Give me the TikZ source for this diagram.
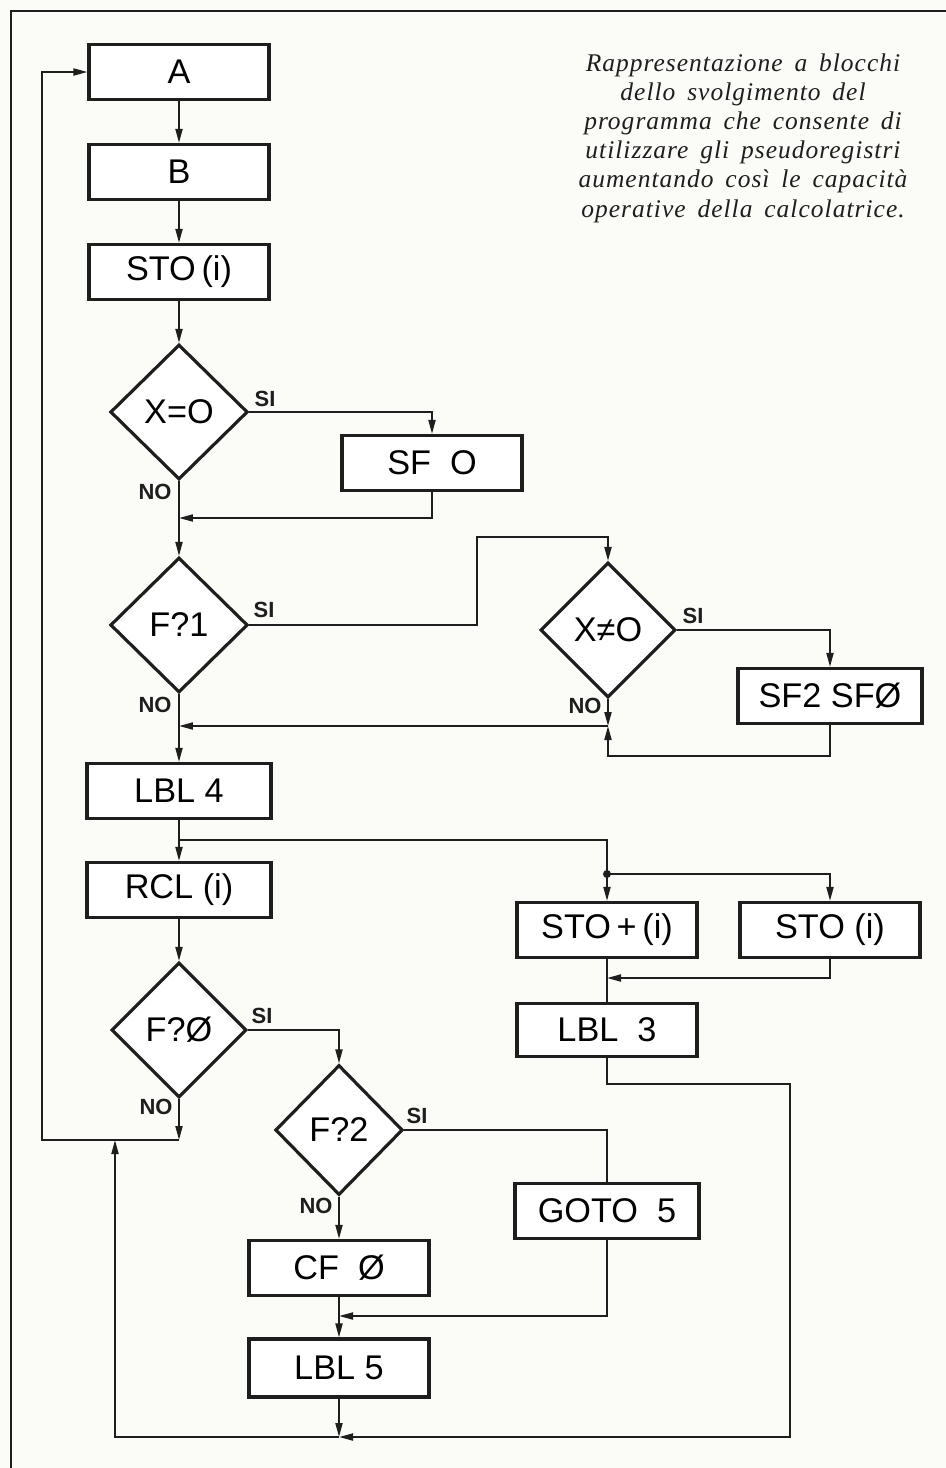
\documentclass[tikz,border=0pt]{standalone}
\usepackage{fontspec}
\setmainfont{Liberation Serif}
\setsansfont{Liberation Sans}
\newfontfamily\notefont[LetterSpace=4,WordSpace=1.6]{Liberation Serif}
\usepackage{tikz}
\usetikzlibrary{arrows.meta,shapes.geometric}
\definecolor{FlowInk}{HTML}{1E1E1E}
\definecolor{FlowPaper}{HTML}{FBFBF8}
\tikzset{
  >=Triangle,
  opbox/.style={draw=FlowInk,line width=1.8pt,fill=white,minimum width=3.6cm,
    minimum height=1.1cm,inner sep=2pt,font=\sffamily\fontsize{19.5}{22}\selectfont},
  widebox/.style={opbox,minimum width=3.68cm},
  testbox/.style={diamond,draw=FlowInk,line width=1.8pt,fill=white,aspect=1,
    inner sep=0pt,minimum width=2.75cm,minimum height=2.7cm,
    font=\sffamily\fontsize{19.5}{22}\selectfont},
  flow/.style={-{Triangle[length=2.8mm,width=1.4mm]},line width=1.1pt,draw=FlowInk},
  wire/.style={line width=1.1pt,draw=FlowInk},
  answer/.style={font=\sffamily\bfseries\fontsize{12.5}{13}\selectfont,text=FlowInk,inner sep=1pt},
  caption/.style={font=\notefont\itshape\fontsize{14.5}{16.6}\selectfont,align=center,text=FlowInk},
  frameline/.style={line width=1.2pt,draw=FlowInk}
}

\begin{document}
\begin{tikzpicture}[x=0.02cm,y=-0.02cm]
  \useasboundingbox[fill=FlowPaper] (0,0) rectangle (946,1468);
  \draw[frameline] (11,1468) -- (11,11) -- (946,11);

  \node[caption] (note) at (743,138) {Rappresentazione a blocchi\\dello svolgimento del\\programma che consente di\\utilizzare gli pseudoregistri\\aumentando così le capacità\\operative della calcolatrice.};

  % main column
  \node[opbox] (a) at (179,72) {A};
  \node[opbox] (b) at (179,172) {B};
  \node[opbox] (stoi1) at (179,272) {STO\,(i)};
  \node[testbox] (xeq) at (179,412) {X=O};
  \node[opbox] (sfo) at (432,463) {SF\ \ O};
  \node[testbox] (fq1) at (179,625) {F?1};
  \node[testbox,minimum width=2.7cm] (xne) at (608,630) {X≠O};
  \node[widebox] (sf2) at (830,696) {SF2 SFØ};
  \node[widebox] (lbl4) at (179,791) {LBL 4};
  \node[widebox] (rcl) at (179,890) {RCL (i)};
  \node[opbox] (stoplus) at (607,930) {STO\,+\,(i)};
  \node[opbox] (stoi2) at (830,930) {STO\ (i)};
  \node[opbox,minimum height=1.06cm] (lbl3) at (607,1030) {LBL\ \ 3};
  \node[testbox,minimum width=2.7cm] (fq0) at (179,1030) {F?Ø};
  \node[testbox,minimum width=2.55cm,minimum height=2.6cm] (fq2) at (339,1130) {F?2};
  \node[widebox] (goto) at (607,1211) {GOTO\ \ 5};
  \node[opbox] (cf0) at (339,1268) {CF\ \ Ø};
  \node[opbox,minimum height=1.16cm] (lbl5) at (339,1368) {LBL 5};

  % answers
  \node[answer] (xeqsi) at (265,399) {SI};
  \node[answer] (xeqno) at (155,492) {NO};
  \node[answer] (fq1si) at (264,610) {SI};
  \node[answer] (fq1no) at (155,705) {NO};
  \node[answer] (xnesi) at (693,616) {SI};
  \node[answer] (xneno) at (585,706) {NO};
  \node[answer] (fq0si) at (262,1016) {SI};
  \node[answer] (fq0no) at (156,1107) {NO};
  \node[answer] (fq2si) at (417,1116) {SI};
  \node[answer] (fq2no) at (316,1206) {NO};

  % joints
  \coordinate (j1) at (179,518);
  \coordinate (c1) at (477,537);
  \coordinate (j2) at (608,726);
  \coordinate (c2) at (608,756);
  \coordinate (j3) at (179,726);
  \coordinate (j4) at (179,840);
  \coordinate (split) at (607,874);
  \coordinate (j5) at (607,978);
  \coordinate (c3) at (790,1084);
  \coordinate (j6) at (339,1437);
  \coordinate (j7) at (179,1140);
  \coordinate (c5) at (42,72);
  \coordinate (j8) at (115,1140);
  \coordinate (j9) at (339,1316);

  \draw[flow] (a) -- (b);
  \draw[flow] (b) -- (stoi1);
  \draw[flow] (stoi1) -- (xeq);
  \draw[flow] (xeq.east) -| (sfo.north);
  \draw[flow] (sfo.south) |- (j1);
  \draw[flow] (xeq.south) -- (fq1.north);
  \draw[flow] (fq1.east) -| (c1) -| (xne.north);
  \draw[flow] (xne.east) -| (sf2.north);
  \draw[flow] (xne.south) -- (j2);
  \draw[flow] (sf2.south) |- (c2) -- (j2);
  \draw[flow] (j2) -- (j3);
  \draw[flow] (fq1.south) -- (lbl4.north);
  \draw[flow] (lbl4.south) -- (rcl.north);
  \draw[wire] (j4) -| (split);
  \fill[FlowInk] (split) circle (4);
  \draw[flow] (split) -- (stoplus.north);
  \draw[flow] (split) -| (stoi2.north);
  \draw[flow] (stoi2.south) |- (j5);
  \draw[wire] (stoplus.south) -- (lbl3.north);
  \draw[flow] (lbl3.south) |- (c3) |- (j6);
  \draw[flow] (rcl.south) -- (fq0.north);
  \draw[flow] (fq0.east) -| (fq2.north);
  \draw[flow] (fq0.south) -- (j7);
  \draw[flow] (j7) -| (c5) -- (a.west);
  \draw[flow] (j6) -| (j8);
  \draw[wire] (fq2.east) -| (goto.north);
  \draw[flow] (fq2.south) -- (cf0.north);
  \draw[flow] (goto.south) |- (j9);
  \draw[flow] (cf0.south) -- (lbl5.north);
  \draw[flow] (lbl5.south) -- (j6);
\end{tikzpicture}
\end{document}
